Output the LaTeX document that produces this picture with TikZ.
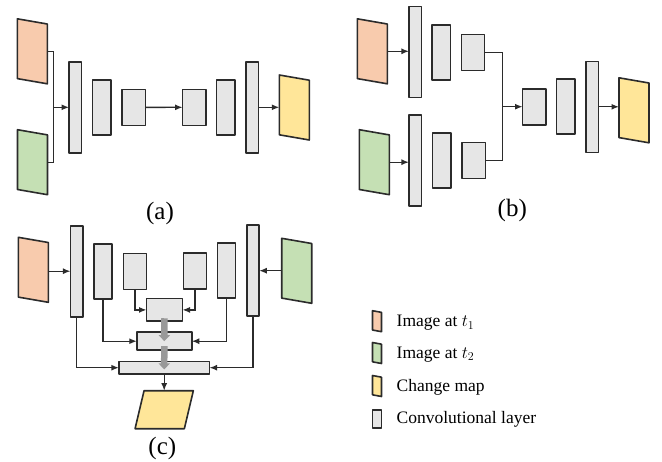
\documentclass[tikz,border=0pt]{standalone}
\usepackage{fontspec}
\setmainfont{Liberation Serif}
\usepackage{tikz}
\usetikzlibrary{arrows.meta,positioning,calc}
\usepackage{xcolor}

\definecolor{edge}{HTML}{2B2B2B}
\definecolor{convgray}{HTML}{E6E6E6}
\definecolor{imgone}{HTML}{F8CBAD}
\definecolor{imgtwo}{HTML}{C5E0B4}
\definecolor{changemap}{HTML}{FFE699}
\definecolor{fuse}{HTML}{999999}

% slanted image tile: name, centre, width, height, fill
\newcommand{\imgslab}[5]{%
  \node[slab, minimum width=#3, minimum height=#4] (#1) at (#2) {};
  \filldraw[fill=#5, frame] (#1.north west) -- ($(#1.north east)+(0,{0.08*#4})$)
    -- (#1.south east) -- ($(#1.south west)-(0,{0.08*#4})$) -- cycle;
}

\begin{document}
\begin{tikzpicture}[
            x=1pt, y=-1pt,
            >={Latex[length=7.5pt,width=6pt]},
            frame/.style={draw=edge, line width=1.6pt, line join=round},
            slab/.style={inner sep=0, outer sep=0},
            conv/.style={frame, fill=convgray, inner sep=0, outer sep=0},
            tall/.style={conv, minimum width=12.5, minimum height=91},
            mid/.style={conv, minimum width=18.3, minimum height=55},
            small/.style={conv, minimum width=23.3, minimum height=36},
            link/.style={draw=edge, line width=1.3pt},
            fat/.style={draw=fuse, line width=6.5pt, -{Triangle[length=6pt,width=11pt]}},
            caption/.style={font=\fontsize{25}{30}\selectfont},
            legend/.style={anchor=west, inner sep=0, font=\fontsize{17.5}{21}\selectfont}
        ]
            \useasboundingbox (0,0) rectangle (662,461);

            % (a) early fusion
            \imgslab{t1a}{32.3,51.3}{30}{65}{imgone}
            \imgslab{t2a}{32.5,162.2}{30}{65}{imgtwo}
            \imgslab{ya}{294.3,107.5}{30}{65}{changemap}
            \node[tall]  (a1) at (75.3,107.3) {};
            \node[mid]   (a2) at (101.8,107.3) {};
            \node[small] (a3) at (133.7,107.4) {};
            \node[small] (a4) at (194.2,107.3) {};
            \node[mid]   (a5) at (225.7,107.3) {};
            \node[tall]  (a6) at (252.3,107.3) {};
            \coordinate (ja) at (53.3,107.3);
            \draw[link] (t1a.east) -| (ja) |- (t2a.east);
            \draw[link,->] (ja) -- (a1.west);
            \draw[link,->] (a3) -- (a4);
            \draw[link,->] (a6.east) -- (a6.east -| ya.west);
            \node[caption] (capa) at (160,213) {(a)};

            % (b) late fusion
            \imgslab{t1b}{372.3,51.3}{30}{65}{imgone}
            \imgslab{t2b}{374.3,162.2}{30}{65}{imgtwo}
            \imgslab{yb}{634,110.3}{30}{65}{changemap}
            \node[tall]  (bt1) at (415.2,52) {};
            \node[mid]   (bt2) at (441.3,52.7) {};
            \node[small] (bt3) at (473,52.5) {};
            \node[tall]  (bb1) at (415.2,160.7) {};
            \node[mid]   (bb2) at (441.7,160.3) {};
            \node[small] (bb3) at (473.8,160.5) {};
            \node[small] (bd1) at (534.2,106.7) {};
            \node[mid]   (bd2) at (565.7,106.7) {};
            \node[tall]  (bd3) at (592.3,106.8) {};
            \coordinate (jb) at (502.3,106.7);
            \draw[link,->] (t1b.east) -- (t1b.east -| bt1.west);
            \draw[link,->] (t2b.east) -- (t2b.east -| bb1.west);
            \draw[link] (bt3.east) -| (jb) |- (bb3.east);
            \draw[link,->] (jb) -- (bd1.west);
            \draw[link,->] (bd3.east) -- (bd3.east -| yb.west);
            \node[caption] (capb) at (512.3,210) {(b)};

            % (c) siamese encoder with fused decoder
            \imgslab{t1c}{33.3,269.8}{30}{65}{imgone}
            \imgslab{t2c}{296.7,270.8}{30}{65}{imgtwo}
            \node[tall]  (cl1) at (76.7,271.2) {};
            \node[mid]   (cl2) at (103,271.3) {};
            \node[small] (cl3) at (135,271.5) {};
            \node[small] (cr3) at (195,270.7) {};
            \node[mid]   (cr2) at (226.5,270.5) {};
            \node[tall]  (cr1) at (253,270.7) {};
            \node[conv, minimum width=36, minimum height=22.7] (f1) at (164.5,309.9) {};
            \node[conv, minimum width=55, minimum height=18] (f2) at (164.3,341.2) {};
            \node[conv, minimum width=90.7, minimum height=12.5] (f3) at (164.2,367.7) {};
            \node[slab, minimum width=58.3, minimum height=38] (yc) at (164.2,409.7) {};
            \filldraw[fill=changemap, frame] (yc.south west) -- ($(yc.north west)+(9,0)$)
                -- (yc.north east) -- ($(yc.south east)-(9,0)$) -- cycle;
            \draw[link,->] (cl1.west -| t1c.east) -- (cl1.west);
            \draw[link,->] (cr1.east -| t2c.west) -- (cr1.east);
            \draw[link,->] (cl3.south) |- (f1.west);
            \draw[link,->] (cr3.south) |- (f1.east);
            \draw[link,->] (cl2.south) |- (f2.west);
            \draw[link,->] (cr2.south) |- (f2.east);
            \draw[link,->] (cl1.south) |- (f3.west);
            \draw[link,->] (cr1.south) |- (f3.east);
            \draw[fat] ([yshift=3pt]f1.south) -- ([yshift=-9pt]f2.north);
            \draw[fat] ([yshift=4pt]f2.south) -- ([yshift=-8pt]f3.north);
            \draw[link,->] (f3.south) -- (f3.south |- yc.north);
            \node[caption] (capc) at (162.3,448) {(c)};

            % legend
            \imgslab{k1}{377,321.2}{9}{21}{imgone}
            \imgslab{k2}{377,353}{9}{21}{imgtwo}
            \imgslab{k3}{377,386}{9}{21}{changemap}
            \node[conv, minimum width=9, minimum height=18] (k4) at (377,418.7) {};
            \node[legend] (l1) at (396.5,322.7) {Image at $t_1$};
            \node[legend] (l2) at (396.5,354.3) {Image at $t_2$};
            \node[legend] (l3) at (396.5,387.7) {Change map};
            \node[legend] (l4) at (396.5,419) {Convolutional layer};
        \end{tikzpicture}
\end{document}
